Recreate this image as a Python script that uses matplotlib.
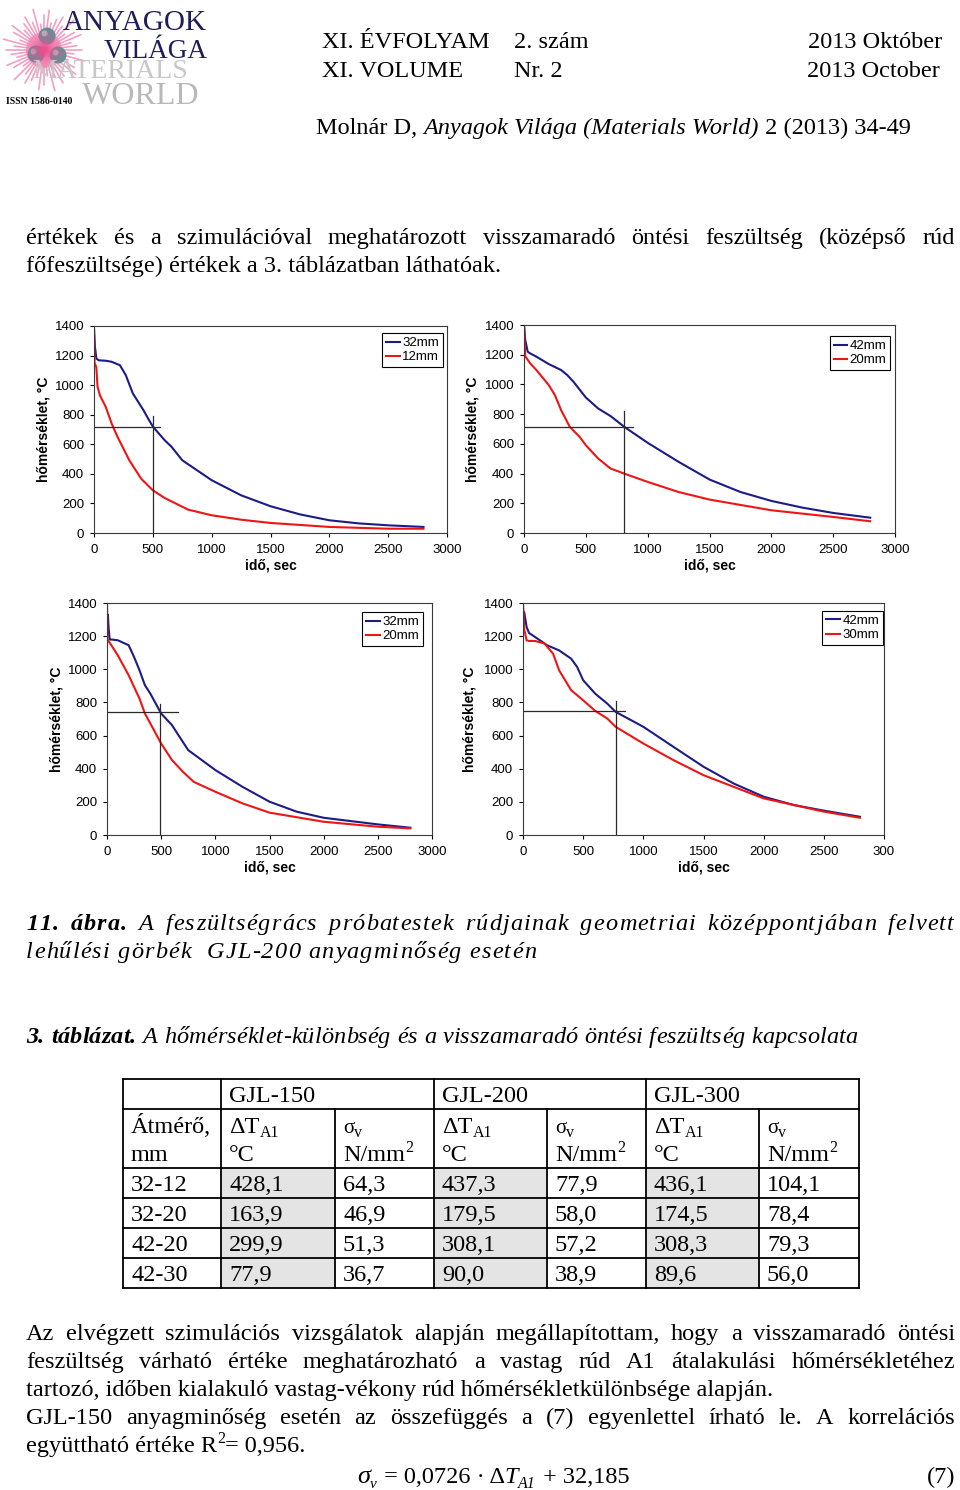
import math
import matplotlib
matplotlib.use('Agg')
import matplotlib.pyplot as plt
from matplotlib.patches import Rectangle, Circle

# --- 11. ábra: lehűlési görbék, idő [s] és hőmérséklet [°C] ---
# 1. diagram: 32mm / 12mm
c1_t_32 = [0, 8, 20, 40, 100, 150, 220, 270, 330, 420, 460, 500, 600, 660, 750, 1000, 1250, 1500, 1750, 2000, 2250, 2500, 2800]
c1_T_32 = [1380, 1260, 1180, 1168, 1165, 1158, 1135, 1068, 944, 831, 774, 720, 628, 582, 492, 357, 255, 181, 126, 86, 65, 52, 41]
c1_t_12 = [0, 5, 20, 30, 50, 100, 150, 200, 300, 400, 500, 600, 800, 1000, 1250, 1500, 2000, 2500, 2800]
c1_T_12 = [1400, 1150, 1120, 990, 932, 853, 740, 650, 492, 368, 289, 237, 158, 120, 90, 68, 41, 29, 29]
# 2. diagram: 42mm / 20mm
c2_t_42 = [0, 10, 30, 50, 100, 200, 300, 350, 400, 500, 600, 700, 810, 1000, 1250, 1500, 1750, 2000, 2250, 2500, 2800]
c2_T_42 = [1400, 1300, 1220, 1209, 1187, 1137, 1097, 1063, 1018, 912, 838, 787, 715, 607, 479, 360, 276, 216, 171, 135, 103]
c2_t_20 = [0, 10, 50, 100, 200, 250, 300, 370, 450, 500, 600, 700, 810, 1000, 1250, 1500, 2000, 2500, 2800]
c2_T_20 = [1400, 1190, 1142, 1097, 996, 928, 827, 715, 647, 591, 501, 434, 400, 344, 276, 225, 153, 108, 79]
# 3. diagram: 32mm / 20mm
c3_t_32 = [0, 8, 15, 25, 50, 100, 200, 250, 300, 350, 400, 500, 600, 650, 750, 1000, 1250, 1500, 1750, 2000, 2500, 2800]
c3_T_32 = [1200, 1330, 1250, 1180, 1179, 1175, 1145, 1074, 994, 904, 853, 733, 663, 612, 512, 392, 291, 201, 141, 104, 64, 44]
c3_t_20 = [0, 5, 50, 100, 200, 300, 350, 400, 500, 600, 700, 800, 1000, 1250, 1500, 2000, 2500, 2800]
c3_T_20 = [1400, 1180, 1135, 1084, 964, 823, 733, 673, 552, 452, 382, 321, 261, 191, 135, 80, 50, 40]
# 4. diagram: 42mm / 30mm
c4_t_42 = [0, 10, 30, 50, 100, 200, 300, 400, 450, 500, 600, 700, 770, 1000, 1250, 1500, 1750, 2000, 2250, 2500, 2800]
c4_T_42 = [1250, 1345, 1255, 1219, 1195, 1145, 1114, 1064, 1014, 934, 853, 793, 743, 653, 532, 412, 311, 231, 181, 147, 110]
c4_t_30 = [0, 10, 30, 50, 100, 180, 250, 300, 400, 500, 600, 700, 770, 1000, 1250, 1500, 1750, 2000, 2500, 2800]
c4_T_30 = [1400, 1240, 1175, 1171, 1171, 1155, 1094, 994, 874, 813, 749, 703, 653, 552, 452, 361, 291, 221, 141, 104]

# segédvonalak (A1 hőmérséklet): vízszintes szint, vége, függőleges idő, teteje
cross_T = [720, 715, 743, 749]
cross_tend = [565, 884, 652, 851]
cross_t = [505, 811, 486, 773]
cross_Ttop = [790, 822, 793, 807]

legend_thick = ['32mm', '42mm', '32mm', '42mm']
legend_thin = ['12mm', '20mm', '20mm', '30mm']
xticks = [0, 500, 1000, 1500, 2000, 2500, 3000]
xticklabels_std = ['0', '500', '1000', '1500', '2000', '2500', '3000']
xticklabels_last = ['0', '500', '1000', '1500', '2000', '2500', '300']
yticks = [0, 200, 400, 600, 800, 1000, 1200, 1400]

# --- 3. táblázat ---
diam = ['32-12', '32-20', '42-20', '42-30']
dT_150 = ['428,1', '163,9', '299,9', '77,9']
sv_150 = ['64,3', '46,9', '51,3', '36,7']
dT_200 = ['437,3', '179,5', '308,1', '90,0']
sv_200 = ['77,9', '58,0', '57,2', '38,9']
dT_300 = ['436,1', '174,5', '308,3', '89,6']
sv_300 = ['104,1', '78,4', '79,3', '56,0']
grades = ['GJL-150', 'GJL-200', 'GJL-300']

SERIF = 'Liberation Serif'
SANS = 'Liberation Sans'
FS = 17.5
BLUE = '#1c1c86'
RED = '#f01414'

fig = plt.figure(figsize=(9.6, 14.9), dpi=100)
page = fig.add_axes([0, 0, 1, 1])
page.set_xlim(0, 960)
page.set_ylim(1490, 0)
page.axis('off')
rend = fig.canvas.get_renderer()


def width(s, **kw):
    t = page.text(0, 0, s, family=SERIF, **kw)
    w = t.get_window_extent(rend).width
    t.remove()
    return w


def adv(s, **kw):
    # előrehaladás (szóközökkel együtt)
    return width('n' + s + 'n', **kw) - width('nn', **kw)


def run(x, y, s, track=0, **kw):
    kw.setdefault('size', FS)
    if not track:
        page.text(x, y, s, family=SERIF, va='baseline', ha='left', **kw)
        return x + adv(s, **kw)
    for ch in s:
        if ch != ' ':
            page.text(x, y, ch, family=SERIF, va='baseline', ha='left', **kw)
        x += adv(ch, **kw) + track
    return x


def wordw(s, track=0, **kw):
    kw.setdefault('size', FS)
    if not track:
        return adv(s, **kw)
    return sum(adv(ch, **kw) + track for ch in s)


def justify(x0, x1, y, words, track=0):
    ws = [wordw(t, track, **kw) for t, kw in words]
    gap = (x1 - x0 - sum(ws)) / (len(words) - 1)
    x = x0
    for (t, kw), w in zip(words, ws):
        run(x, y, t, track, **kw)
        x += w + gap


def plain(text, **kw):
    return [(w, dict(kw)) for w in text.split()]


# ---------- logó ----------
cx, cy = 44, 50
lens = [38, 30, 42, 26, 35, 40, 28, 33]
for i in range(48):
    a = 2 * math.pi * i / 48
    L = lens[i % len(lens)]
    page.plot([cx, cx + L * math.cos(a)], [cy, cy + L * math.sin(a)],
              color='#ec4f8f', lw=1.2, alpha=0.55, solid_capstyle='round')
page.add_patch(Circle((cx, cy), 18, color='#f27fb0', alpha=0.5, lw=0))
for bx, by in [(47, 36), (36, 54), (58, 55)]:
    page.add_patch(Circle((bx, by), 8.5, color='#2fa99a', lw=0))
    page.add_patch(Circle((bx - 2.5, by - 2.5), 3, color='#9fe3d8', lw=0))
page.text(32, 78, 'MATERIALS', family=SERIF, size=20, color='#c8c8c8', va='baseline')
page.text(82, 104, 'WORLD', family=SERIF, size=23, color='#b8b8b8', va='baseline')
page.text(63, 30, 'ANYAGOK', family=SERIF, size=21, color='#1d1d5c', va='baseline')
page.text(104, 58, 'VILÁGA', family=SERIF, size=19.5, color='#1d1d5c', va='baseline')
page.text(6, 104, 'ISSN 1586-0140', family=SERIF, size=7, weight='bold', va='baseline')

# ---------- fejléc ----------
run(322, 48, 'XI. ÉVFOLYAM')
run(514, 48, '2. szám')
page.text(942, 48, '2013 Október', family=SERIF, size=FS, ha='right', va='baseline')
run(322, 77, 'XI. VOLUME')
run(514, 77, 'Nr. 2')
page.text(940, 77, '2013 October', family=SERIF, size=FS, ha='right', va='baseline')
x = run(316, 134, 'Molnár D, ')
x = run(x, 134, 'Anyagok Világa (Materials World)', style='italic')
run(x, 134, ' 2 (2013) 34-49')

# ---------- bevezető bekezdés ----------
justify(26, 955, 244, plain('értékek és a szimulációval meghatározott visszamaradó öntési feszültség (középső rúd'))
run(26, 272, 'főfeszültsége) értékek a 3. táblázatban láthatóak.')

# ---------- diagramok ----------
boxes = [(94, 326, 447, 533), (524, 325, 895, 533), (107, 603, 432, 835), (523, 603, 884, 835)]
thick = [(c1_t_32, c1_T_32), (c2_t_42, c2_T_42), (c3_t_32, c3_T_32), (c4_t_42, c4_T_42)]
thin = [(c1_t_12, c1_T_12), (c2_t_20, c2_T_20), (c3_t_20, c3_T_20), (c4_t_30, c4_T_30)]
leg_anchor = [(0.989, 0.966), (0.987, 0.947), (0.972, 0.961), (0.997, 0.966)]
ylab_pad = [3, 4, 3, 5]

for i, (l, t, r, b) in enumerate(boxes):
    ax = fig.add_axes([l / 960, 1 - b / 1490, (r - l) / 960, (b - t) / 1490])
    ax.plot(thick[i][0], thick[i][1], color=BLUE, lw=1.5, label=legend_thick[i])
    ax.plot(thin[i][0], thin[i][1], color=RED, lw=1.5, label=legend_thin[i])
    ax.plot([0, cross_tend[i]], [cross_T[i], cross_T[i]], color='#2a2a2a', lw=0.9)
    ax.plot([cross_t[i], cross_t[i]], [0, cross_Ttop[i]], color='#2a2a2a', lw=0.9)
    ax.set_xlim(0, 3000)
    ax.set_ylim(0, 1400)
    ax.set_xticks(xticks)
    ax.set_xticklabels(xticklabels_last if i == 3 else xticklabels_std)
    ax.set_yticks(yticks)
    ax.tick_params(direction='out', length=3, width=0.8, labelsize=9.5)
    ax.tick_params(axis='x', pad=5)
    ax.tick_params(axis='y', pad=4)
    for lab in ax.get_xticklabels() + ax.get_yticklabels():
        lab.set_family(SANS)
    for sp in ax.spines.values():
        sp.set_color('#3a3a3a')
        sp.set_linewidth(0.8)
    ax.set_xlabel('idő, sec', family=SANS, weight='bold', size=10, labelpad=2)
    ax.set_ylabel('hőmérséklet, °C', family=SANS, weight='bold', size=10, labelpad=ylab_pad[i])
    leg = ax.legend(loc='upper right', bbox_to_anchor=leg_anchor[i], borderaxespad=0,
                    prop={'family': SANS, 'size': 9.5}, fancybox=False, framealpha=1,
                    edgecolor='black', handlelength=1.0, handletextpad=0.2,
                    borderpad=0.3, labelspacing=0.15)
    leg.get_frame().set_linewidth(0.8)

# ---------- ábraaláírás ----------
cap1 = [('11.', dict(style='italic', weight='bold')), ('ábra.', dict(style='italic', weight='bold'))]
cap1 += plain('A feszültségrács próbatestek rúdjainak geometriai középpontjában felvett', style='italic')
cap2 = 'lehűlési görbék  GJL-200 anyagminőség esetén'
nat = wordw(cap2, 0, style='italic')
track = (537 - 26 - nat) / len(cap2)
justify(26, 955, 930, cap1, track=track)
run(26, 958, cap2, track=track, style='italic')

# ---------- táblázat címe ----------
t_head = '3. táblázat.'
t_rest = ' A hőmérséklet-különbség és a visszamaradó öntési feszültség kapcsolata'
nat = wordw(t_head, 0, style='italic', weight='bold') + wordw(t_rest, 0, style='italic')
tr2 = max(0, (857 - 26 - nat) / (len(t_head) + len(t_rest)))
x = run(26, 1043, t_head, track=tr2, style='italic', weight='bold')
run(x, 1043, t_rest, track=tr2, style='italic')

# ---------- táblázat ----------
colx = [123, 221, 335, 434, 547, 646, 759, 859]
rowy = [1079, 1109, 1168, 1198, 1228, 1258, 1288]
for k in range(4):
    for c in (1, 3, 5):
        page.add_patch(Rectangle((colx[c], rowy[k + 2]), colx[c + 1] - colx[c],
                                 rowy[k + 3] - rowy[k + 2], color='#e4e4e4', lw=0))
LW = 1.3
for yy in rowy:
    page.plot([colx[0], colx[-1]], [yy, yy], color='black', lw=LW)
for j, xx in enumerate(colx):
    top = rowy[0] if j in (0, 1, 3, 5, 7) else rowy[1]
    page.plot([xx, xx], [top, rowy[-1]], color='black', lw=LW)

for j, g in enumerate(grades):
    run(colx[1 + 2 * j] + 8, 1102, g)
run(131, 1133, 'Átmérő,')
run(131, 1161, 'mm')
for j in range(3):
    xa = colx[1 + 2 * j] + 8
    xb = colx[2 + 2 * j] + 8
    x = run(xa, 1133, 'ΔT')
    run(x, 1137, 'A1', size=11.5)
    run(xa, 1161, '°C')
    x = run(xb, 1133, 'σ', size=15)
    run(x, 1137, 'v', size=11.5)
    x = run(xb, 1161, 'N/mm')
    run(x, 1152, '2', size=11.5)

cols = [diam, dT_150, sv_150, dT_200, sv_200, dT_300, sv_300]
for k in range(4):
    yb = rowy[k + 2] + 23
    for c, vals in enumerate(cols):
        run(colx[c] + 8, yb, vals[k])

# ---------- záró bekezdés ----------
justify(26, 955, 1340, plain('Az elvégzett szimulációs vizsgálatok alapján megállapítottam, hogy a visszamaradó öntési'))
justify(26, 955, 1368, plain('feszültség várható értéke meghatározható a vastag rúd A1 átalakulási hőmérsékletéhez'))
run(26, 1396, 'tartozó, időben kialakuló vastag-vékony rúd hőmérsékletkülönbsége alapján.')
justify(26, 955, 1424, plain('GJL-150 anyagminőség esetén az összefüggés a (7) egyenlettel írható le. A korrelációs'))
x = run(26, 1452, 'együttható értéke R')
x = run(x, 1443, '2', size=11.5)
run(x, 1452, '= 0,956.')

# ---------- egyenlet ----------
x = run(357, 1483, 'σ', style='italic', size=19)
x = run(x, 1488, 'v', style='italic', size=11)
x = run(x + 1, 1483, ' = 0,0726 · Δ')
x = run(x, 1483, 'T', style='italic')
x = run(x, 1488, 'A1', style='italic', size=11.5)
run(x + 1, 1483, ' + 32,185')
page.text(955, 1483, '(7)', family=SERIF, size=FS, ha='right', va='baseline')

fig.savefig('out.png', dpi=100)
